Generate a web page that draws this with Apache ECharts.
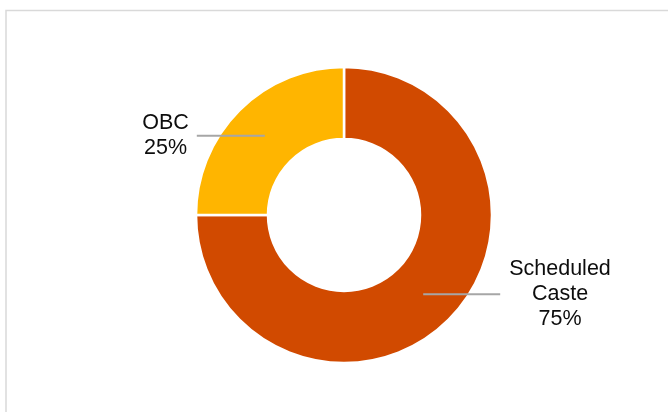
<!DOCTYPE html>
<html>
<head>
<meta charset="utf-8">
<script src="https://cdn.jsdelivr.net/npm/echarts@6/dist/echarts.min.js"></script>
<style>
  html, body { margin: 0; padding: 0; background: #fff; }
  #chart { width: 668px; height: 412px; }
</style>
</head>
<body>
<div id="chart"></div>
<script>
// Category names and their shares (percent)
const categories = ['Scheduled Caste', 'OBC'];
const shares = [75, 25];
const colors = ['#D14A00', '#FFB500'];

// Ring geometry
const cx = 344, cy = 215;
const rInner = 76, rOuter = 148;
const rMid = (rInner + rOuter) / 2;

const total = shares.reduce((a, b) => a + b, 0);

// Mid-angle of each slice (radians, measured clockwise from 12 o'clock)
function midAngle(i) {
  let before = 0;
  for (let k = 0; k < i; k++) before += shares[k];
  return ((before + shares[i] / 2) / total) * Math.PI * 2;
}

const pieData = categories.map((name, i) => ({
  name: name,
  value: shares[i],
  itemStyle: { color: colors[i] }
}));

const chart = echarts.init(document.getElementById('chart'), null, { renderer: 'canvas' });

chart.setOption({
  animation: false,
  backgroundColor: '#ffffff',
  graphic: [{
    type: 'rect',
    shape: { x: 6, y: 10.5, width: 700, height: 500 },
    style: { fill: 'none', stroke: '#d9d9d9', lineWidth: 1.5 },
    silent: true
  }],
  series: [
    // The ring itself
    {
      type: 'pie',
      z: 2,
      center: [cx, cy],
      radius: [rInner, rOuter],
      startAngle: 90,
      clockwise: true,
      emphasis: { disabled: true },
      itemStyle: { borderColor: '#ffffff', borderWidth: 2.5 },
      label: { show: false },
      labelLine: { show: false },
      data: pieData
    },
    // Transparent overlay carrying the labels and leader lines on top of the ring
    {
      type: 'pie',
      z: 5,
      silent: true,
      center: [cx, cy],
      radius: [rInner, rOuter],
      startAngle: 90,
      clockwise: true,
      avoidLabelOverlap: false,
      emphasis: { disabled: true },
      itemStyle: { color: 'rgba(0,0,0,0)', borderWidth: 0 },
      label: {
        show: true,
        position: 'outside',
        color: '#0d0d0d',
        fontFamily: '"Liberation Sans", Arial, sans-serif',
        fontSize: 21.5,
        lineHeight: 25,
        align: 'center',
        formatter: p => p.name.replace(' ', '\n') + '\n' + p.value + '%'
      },
      labelLine: {
        show: true,
        lineStyle: { color: '#a6a6a6', width: 2 }
      },
      labelLayout: function (params) {
        const a = midAngle(params.dataIndex);
        const px = cx + rMid * Math.sin(a);
        const py = cy - rMid * Math.cos(a);
        const left = Math.sin(a) < 0;
        const len = left ? 68 : 77;
        const gap = left ? 8 : 9;
        const ex = left ? px - len : px + len;
        const w = params.labelRect.width;
        return {
          x: left ? ex - gap - w / 2 : ex + gap + w / 2,
          y: py,
          align: 'center',
          verticalAlign: 'middle',
          labelLinePoints: [[px, py], [ex, py], [ex, py]]
        };
      },
      data: categories.map((name, i) => ({ name: name, value: shares[i] }))
    }
  ]
});
</script>
</body>
</html>
